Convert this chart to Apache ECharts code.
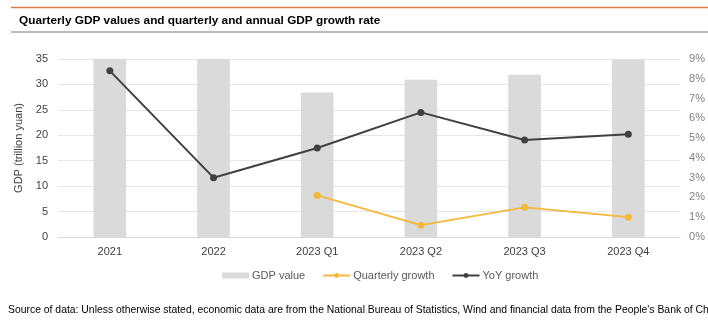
<!DOCTYPE html>
<html>
<head>
<meta charset="utf-8">
<script src="https://cdn.jsdelivr.net/npm/echarts@6/dist/echarts.min.js"></script>
<style>
  html, body { margin: 0; padding: 0; background: #fff; }
  #chart { width: 708px; height: 325px; }
</style>
</head>
<body>
<div id="chart"></div>
<script>
// Categories and series values
const categories = ['2021', '2022', '2023 Q1', '2023 Q2', '2023 Q3', '2023 Q4'];
const gdpValue = [35, 35, 28.4, 30.9, 31.9, 34.8];            // trillion yuan (first two reach the axis top)
const quarterlyGrowth = [null, null, 2.1, 0.6, 1.5, 1.0];     // %
const yoyGrowth = [8.4, 3.0, 4.5, 6.3, 4.9, 5.2];             // %

const leftTicks = { min: 0, max: 35, interval: 5 };
const rightTicks = { min: 0, max: 9, interval: 1 };

const font = 'Arial, "Liberation Sans", sans-serif';
const chart = echarts.init(document.getElementById('chart'), null, { renderer: 'canvas' });

chart.setOption({
  animation: false,
  backgroundColor: '#fff',
  textStyle: { fontFamily: font },
  graphic: [
    { type: 'line', shape: { x1: 11, y1: 7.5, x2: 708, y2: 7.5 }, style: { stroke: '#E07A4A', lineWidth: 1.5 } },
    { type: 'line', shape: { x1: 11, y1: 32, x2: 708, y2: 32 }, style: { stroke: '#A6A6A6', lineWidth: 1.5 } },
    { type: 'text', left: 19, top: 15,
      style: { text: 'Quarterly GDP values and quarterly and annual GDP growth rate',
               font: 'bold 11.8px ' + font, fill: '#000' } },
    { type: 'text', left: 8, top: 305,
      style: { text: 'Source of data: Unless otherwise stated, economic data are from the National Bureau of Statistics, Wind and financial data from the People\'s Bank of China',
               font: '10.4px ' + font, fill: '#000' } }
  ],
  grid: { left: 58, right: 23, top: 59, bottom: 88, containLabel: false },
  legend: {
    bottom: 39, left: 217,
    itemWidth: 27, itemHeight: 6, itemGap: 17,
    textStyle: { color: '#595959', fontSize: 11, fontFamily: font, padding: [0, 0, 0, -2] },
    data: [
      { name: 'GDP value', icon: 'rect' },
      { name: 'Quarterly growth' },
      { name: 'YoY growth' }
    ]
  },
  xAxis: {
    type: 'category',
    data: categories,
    axisLine: { lineStyle: { color: '#D9D9D9' } },
    axisTick: { show: false },
    axisLabel: { color: '#404040', fontSize: 11, margin: 9 }
  },
  yAxis: [
    {
      type: 'value', ...leftTicks,
      name: 'GDP (trillion yuan)', nameLocation: 'middle', nameGap: 32, nameRotate: 90,
      nameTextStyle: { color: '#404040', fontSize: 11 },
      axisLine: { show: false }, axisTick: { show: false },
      axisLabel: { color: '#404040', fontSize: 11, margin: 10 },
      splitLine: { lineStyle: { color: '#E6E6E6' } }
    },
    {
      type: 'value', ...rightTicks,
      axisLine: { show: false }, axisTick: { show: false },
      axisLabel: { color: '#7F7F7F', fontSize: 11, margin: 9, formatter: '{value}%' },
      splitLine: { show: false }
    }
  ],
  series: [
    {
      name: 'GDP value', type: 'bar', yAxisIndex: 0,
      data: gdpValue, barWidth: '31.5%',
      itemStyle: { color: '#DADADA' }
    },
    {
      name: 'Quarterly growth', type: 'line', yAxisIndex: 1,
      data: quarterlyGrowth, connectNulls: false,
      symbol: 'circle', symbolSize: 7,
      lineStyle: { color: '#F4B83A', width: 1.8 },
      itemStyle: { color: '#F4B83A' }
    },
    {
      name: 'YoY growth', type: 'line', yAxisIndex: 1,
      data: yoyGrowth,
      symbol: 'circle', symbolSize: 7,
      lineStyle: { color: '#404040', width: 2 },
      itemStyle: { color: '#404040' }
    }
  ]
});
</script>
</body>
</html>
